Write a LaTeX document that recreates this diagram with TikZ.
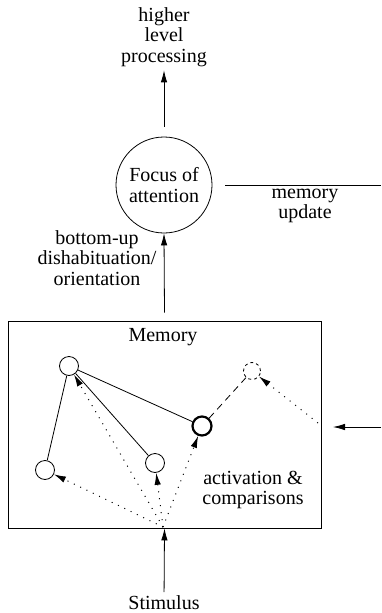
\documentclass[tikz,border=0pt]{standalone}
\usepackage{fontspec}
\setmainfont{Liberation Serif}
\usetikzlibrary{arrows.meta}

\begin{document}
\begin{tikzpicture}[x=1pt,y=-1pt,line width=0.8pt,
  >={Latex[length=12pt,width=6.5pt]},
  every node/.style={font=\fontsize{20}{20.5}\selectfont,align=center},
  unit/.style={circle,draw,minimum size=19pt,inner sep=0pt},
  spread/.style={->,line width=1pt,dash pattern=on 1pt off 6pt}]
\useasboundingbox (0,0) rectangle (381,613);
% attention and what goes on above it
\node (hlp) at (164,37) {higher\\level\\processing};
\node[circle,draw,minimum size=96pt,inner sep=0pt] (focus) at (164,185) {Focus of\\attention};
\draw[->] ([yshift=10pt]focus.north) -- (hlp.south);
\coordinate (mleft) at (225,185);
\coordinate (mright) at (381,185);
\draw (mleft) -- (mright);
\node (upd) at (305,206) {memory\\update};
% memory box
\node[draw,minimum width=313pt,minimum height=207pt,inner sep=0pt] (mem) at (164.5,424.5) {};
\node (memlbl) at (163,337) {Memory};
\node (bu) at (97,258) {bottom-up\\dishabituation/\\orientation};
\draw[->] ([yshift=8pt]mem.north) -- (focus.south);
% units inside memory
\node[unit] (a) at (69,366) {};
\node[unit] (b) at (45,470) {};
\node[unit] (c) at (155,463) {};
\node[unit,line width=2.2pt] (d) at (202,426) {};
\node[unit,dashed,minimum size=17pt] (e) at (252,371) {};
\draw (a) -- (b);
\draw (a) -- (c);
\draw (a) -- (d);
\draw[dash pattern=on 7pt off 5pt] (d) -- (e);
\coordinate (src) at (163,527);
\foreach \t in {b,a,c,d}
  \draw[spread] (src) -- (\t);
\coordinate (ret) at (318,423);
\draw[spread] (ret) -- (e);
\coordinate (ext) at (381,427);
\coordinate (extend) at (333,427);
\draw[->] (ext) -- (extend);
\node (act) at (253,490) {activation \&\\comparisons};
% stimulus
\node (stim) at (164,603) {Stimulus};
\draw[->] (stim) -- (mem.south);
\end{tikzpicture}
\end{document}
